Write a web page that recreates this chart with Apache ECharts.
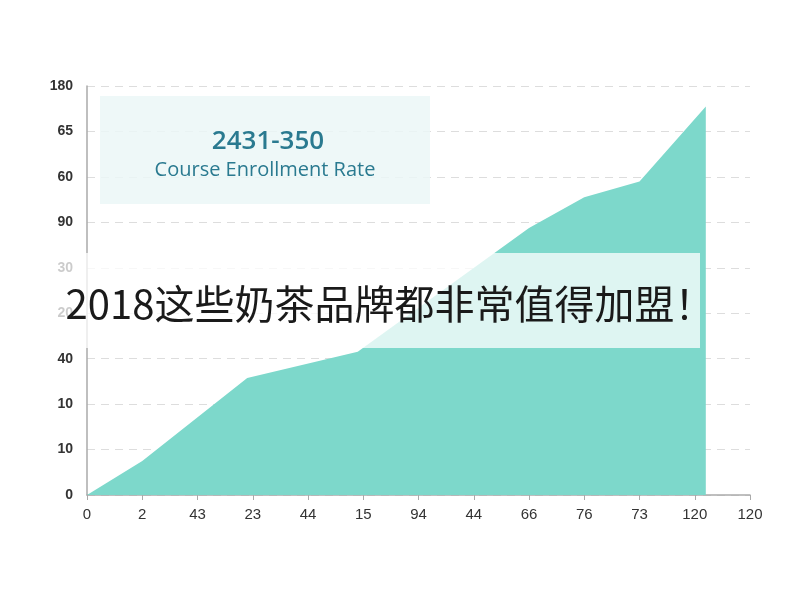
<!DOCTYPE html>
<html><head><meta charset="utf-8">
<script src="https://cdn.jsdelivr.net/npm/echarts@6/dist/echarts.min.js"></script>
<style>html,body{margin:0;background:#fff}#c{width:800px;height:600px}</style>
</head><body><div id="c"></div>
<script>
const xLabels = ['0','2','43','23','44','15','94','44','66','76','73','120','120'];
const yLabels = ['0','10','10','40','20','30','90','60','65','180'];
const xs = [0, 1, 2.9, 4.9, 8, 9, 10, 11.2];
const ys = [0, 15, 51.5, 63, 117.5, 131, 138, 171];
const title = '2431-350';
const subtitle = 'Course Enrollment Rate';
const banner = '2018这些奶茶品牌都非常值得加盟！';

const chart = echarts.init(document.getElementById('c'));
chart.setOption({
  animation:false,
  grid:{left:87,right:50,top:86,bottom:105},
  xAxis:{type:'value',min:0,max:12,interval:1,
    axisLine:{lineStyle:{color:'#aaa',width:1.5}},
    axisTick:{show:true,lineStyle:{color:'#aaa'}},
    splitLine:{show:false},
    axisLabel:{color:'#333',fontSize:15,margin:12,formatter:(v)=>xLabels[Math.round(v)]}},
  yAxis:{type:'value',min:0,max:180,interval:20,
    axisLine:{show:true,lineStyle:{color:'#aaa',width:1.5}},
    axisTick:{show:false},
    splitLine:{lineStyle:{color:'#ddd',type:[8,6]}},
    axisLabel:{color:'#333',fontSize:14,fontWeight:'bold',margin:14,formatter:(v)=>yLabels[Math.round(v/20)]}},
  series:[{type:'line',data:xs.map((x,i)=>[x,ys[i]]),symbol:'none',
    lineStyle:{width:0},areaStyle:{color:'#7dd8cb',opacity:1}}],
  graphic:[
    {type:'rect',shape:{x:100,y:96,width:330,height:108},style:{fill:'rgba(235,247,247,0.85)'},z:10},
    {type:'text',x:268,y:142,style:{text:title,font:'600 26px "Open Sans"',fill:'#2a7a90',textAlign:'center',textVerticalAlign:'middle'},z:11},
    {type:'text',x:265,y:170,style:{text:subtitle,font:'20px "Open Sans"',fill:'#2a7a90',textAlign:'center',textVerticalAlign:'middle'},z:11},
    {type:'rect',shape:{x:0,y:253,width:700,height:95},style:{fill:'rgba(255,255,255,0.75)'},z:10},
    {type:'text',x:390,y:304,style:{text:banner,font:'40px "Noto Sans CJK SC"',fill:'#1a1a1a',textAlign:'center',textVerticalAlign:'middle'},z:11}
  ]
});
</script></body></html>
